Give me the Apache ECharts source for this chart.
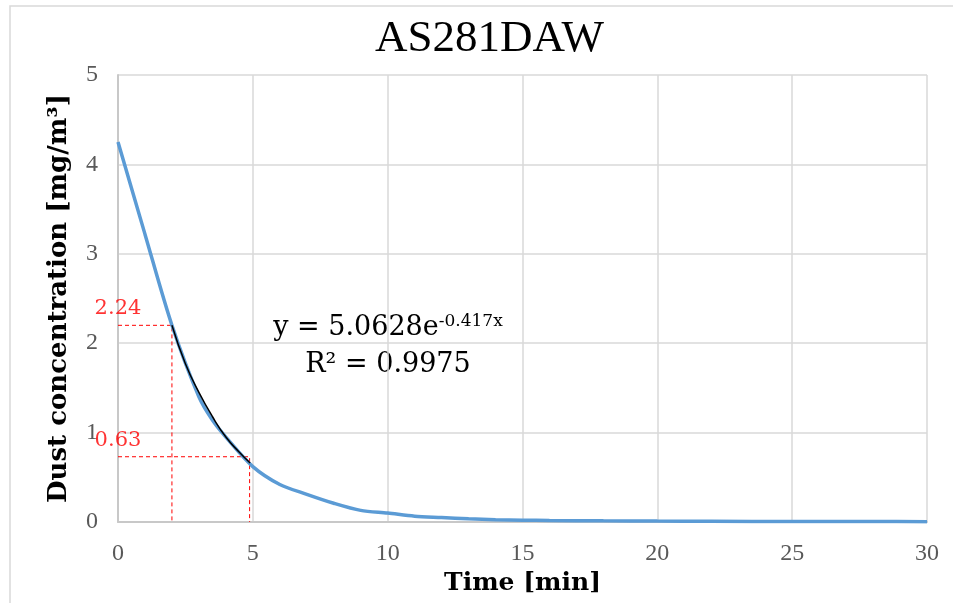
<!DOCTYPE html>
<html>
<head>
<meta charset="utf-8">
<script src="https://cdn.jsdelivr.net/npm/echarts@6/dist/echarts.min.js"></script>
<style>
  html, body { margin: 0; padding: 0; background: #fff; overflow: hidden; }
  #chart { width: 953px; height: 603px; }
</style>
</head>
<body>
<div id="chart"></div>
<script>
// measured dust concentration (min, mg/m3)
const timeMin = [0, 1, 2, 3, 3.5, 4, 5, 6, 7, 8, 9, 10, 11, 12, 13, 14, 15, 16, 18, 20, 22, 25, 28, 30];
const dust = [4.25, 3.22, 2.2, 1.4, 1.14, 0.95, 0.62, 0.42, 0.31, 0.21, 0.13, 0.1, 0.065, 0.05, 0.035, 0.025, 0.02, 0.017, 0.013, 0.01, 0.008, 0.006, 0.005, 0.004];

const trendX = [2, 2.5, 3, 3.5, 4, 4.5, 4.9];
const trendY = [2.2, 1.77, 1.45, 1.18, 0.95, 0.78, 0.66];

// red guide lines
const guideA = [[0, 2.2], [2, 2.2], [2, 0]];
const guideB = [[0, 0.73], [4.88, 0.73], [4.88, 0]];
const guideLabels = [['2.24', 0, 2.2], ['0.63', 0, 0.73]];

const serif = '"Liberation Serif", "DejaVu Serif", serif';
const wide = '"DejaVu Serif", serif';

const chart = echarts.init(document.getElementById('chart'), null, { width: 953, height: 603 });

const pair = (xs, ys) => xs.map((x, i) => [x, ys[i]]);

chart.setOption({
    animation: false,
    title: {
        text: 'AS281DAW',
        left: 370,
        top: 12,
        textStyle: { fontFamily: serif, fontSize: 45, fontWeight: 'normal', color: '#000' }
    },
    grid: { left: 118, right: 26, top: 75, bottom: 81 },
    xAxis: {
        type: 'value',
        min: 0,
        max: 30,
        interval: 5,
        name: 'Time [min]',
        nameLocation: 'middle',
        nameGap: 47,
        nameTextStyle: { fontFamily: wide, fontSize: 25, fontWeight: 'bold', color: '#000' },
        axisLine: { lineStyle: { color: '#c8c8c8', width: 2 } },
        axisTick: { show: false },
        axisLabel: { fontFamily: serif, fontSize: 24, color: '#595959', margin: 20 },
        splitLine: { lineStyle: { color: '#d9d9d9', width: 1.5 } }
    },
    yAxis: {
        type: 'value',
        min: 0,
        max: 5,
        interval: 1,
        name: 'Dust concentration [mg/m³]',
        nameLocation: 'middle',
        nameGap: 46,
        nameTextStyle: { fontFamily: wide, fontSize: 26, fontWeight: 'bold', color: '#000' },
        axisLine: { show: true, lineStyle: { color: '#c8c8c8', width: 2 } },
        axisTick: { show: false },
        axisLabel: { fontFamily: serif, fontSize: 24, color: '#595959', margin: 20 },
        splitLine: { lineStyle: { color: '#d9d9d9', width: 1.5 } }
    },
    series: [
        {
            type: 'line',
            data: guideA,
            symbol: 'none',
            lineStyle: { color: '#ff0000', width: 1, type: [4, 3] },
            z: 3
        },
        {
            type: 'line',
            data: guideB,
            symbol: 'none',
            lineStyle: { color: '#ff0000', width: 1, type: [4, 3] },
            z: 3
        },
        {
            type: 'line',
            data: pair(timeMin, dust),
            symbol: 'none',
            smooth: 0.3,
            lineStyle: { color: '#5b9bd5', width: 3.5 },
            z: 4
        },
        {
            type: 'line',
            data: pair(trendX, trendY),
            symbol: 'none',
            smooth: true,
            lineStyle: { color: '#000', width: 1.5 },
            z: 5
        },
        {
            type: 'scatter',
            data: guideLabels.map(d => ({ value: [d[1], d[2]], name: d[0] })),
            symbolSize: 0,
            label: {
                show: true,
                position: 'top',
                distance: 6,
                formatter: p => p.name,
                fontFamily: wide,
                fontSize: 21,
                color: '#ff0000'
            },
            z: 6
        }
    ],
    graphic: [
        {
            type: 'rect',
            shape: { x: 10, y: 6, width: 1000, height: 700 },
            style: { fill: 'none', stroke: '#d9d9d9', lineWidth: 1.5 },
            silent: true
        },
        {
            type: 'text',
            x: 388,
            y: 342,
            style: {
                text: '{b|y = 5.0628e}{s|-0.417x}',
                align: 'center',
                verticalAlign: 'bottom',
                rich: {
                    b: { fontFamily: wide, fontSize: 27, color: '#000' },
                    s: { fontFamily: wide, fontSize: 17, color: '#000', verticalAlign: 'top', padding: [0, 0, 12, 0] }
                }
            }
        },
        {
            type: 'text',
            x: 388,
            y: 378,
            style: {
                text: 'R² = 0.9975',
                align: 'center',
                verticalAlign: 'bottom',
                fontFamily: wide,
                fontSize: 27,
                fill: '#000'
            }
        }
    ]
});
</script>
</body>
</html>
